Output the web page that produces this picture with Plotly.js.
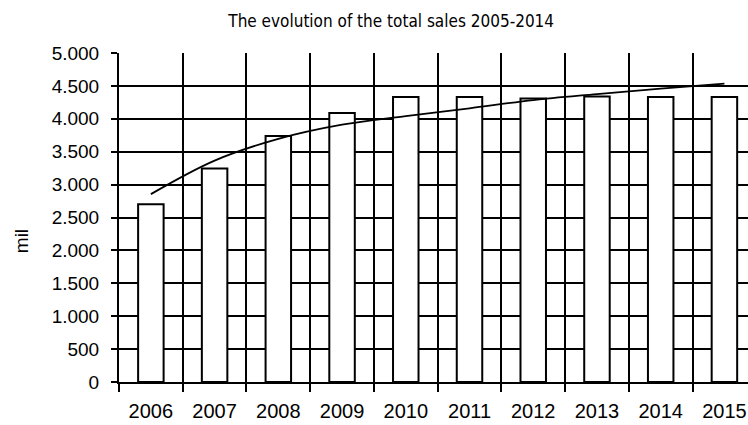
<!DOCTYPE html>
<html>
<head>
<meta charset="utf-8">
<script src="https://cdn.plot.ly/plotly-3.0.1.min.js"></script>
<style>
  html, body { margin: 0; padding: 0; background: #ffffff; overflow: hidden; }
  #chart { width: 748px; height: 425px; }
</style>
</head>
<body>
<div id="chart"></div>
<script>
// ---- data ----
var years = ['2006', '2007', '2008', '2009', '2010', '2011', '2012', '2013', '2014', '2015'];
var sales = [2700, 3245, 3740, 4090, 4330, 4330, 4310, 4340, 4330, 4330];
var trend = [2855, 3365, 3695, 3910, 4040, 4160, 4285, 4375, 4460, 4535];
var yTicks = [0, 500, 1000, 1500, 2000, 2500, 3000, 3500, 4000, 4500, 5000];
var yGrid = [500, 1000, 1500, 2000, 2500, 3000, 3500, 4000, 4500];
var titleText = 'The evolution of the total sales 2005-2014';
var yTitleText = 'mil';

var black = '#000000';
var baseFont = '"Liberation Sans", Arial, sans-serif';

var traces = [
  {
    type: 'bar',
    x: years,
    y: sales,
    width: 0.4,
    marker: { color: '#ffffff', line: { color: black, width: 2 } },
    xaxis: 'x',
    yaxis: 'y',
    hoverinfo: 'skip',
    showlegend: false
  },
  {
    type: 'scatter',
    mode: 'lines',
    x: years,
    y: trend,
    line: { color: black, width: 1.8, shape: 'spline', smoothing: 1 },
    xaxis: 'x',
    yaxis: 'y2',
    hoverinfo: 'skip',
    showlegend: false
  }
];

var layout = {
  width: 748,
  height: 425,
  margin: { l: 119, r: 0, t: 53, b: 43, pad: 0 },
  paper_bgcolor: '#ffffff',
  plot_bgcolor: '#ffffff',
  separators: ',.',
  font: { family: baseFont, color: black },
  showlegend: false,
  title: {
    text: titleText,
    font: { family: '"Liberation Sans Narrow", "DejaVu Sans Condensed", "Liberation Sans", sans-serif', size: 17, color: black },
    xref: 'container', yref: 'container',
    x: 0.523, xanchor: 'center',
    y: 0.951, yanchor: 'middle'
  },
  xaxis: {
    type: 'category',
    categoryorder: 'array',
    categoryarray: years,
    range: [-0.5, 9.37],
    tickson: 'boundaries',
    ticks: 'outside',
    ticklen: 8,
    tickwidth: 2,
    tickcolor: black,
    showgrid: true,
    gridcolor: black,
    gridwidth: 2,
    showline: true,
    linecolor: black,
    linewidth: 2,
    zeroline: false,
    tickfont: { family: baseFont, size: 20, color: black },
    ticklabelstandoff: 10,
    fixedrange: true
  },
  yaxis: {
    range: [0, 5000],
    tickmode: 'array',
    tickvals: yTicks,
    tickformat: ',d',
    ticks: 'outside',
    ticklen: 6,
    tickwidth: 2,
    tickcolor: black,
    showgrid: false,
    showline: true,
    linecolor: black,
    linewidth: 2,
    zeroline: false,
    tickfont: { family: baseFont, size: 19, color: black },
    ticklabelstandoff: 8,
    fixedrange: true
  },
  yaxis2: {
    overlaying: 'y',
    side: 'left',
    range: [0, 5000],
    tickmode: 'array',
    tickvals: yGrid,
    showticklabels: false,
    ticks: '',
    showgrid: true,
    gridcolor: black,
    gridwidth: 2,
    showline: false,
    zeroline: false,
    fixedrange: true
  },
  annotations: [
    {
      text: yTitleText,
      xref: 'paper', yref: 'paper',
      x: -0.1558, y: 0.428,
      xanchor: 'center', yanchor: 'middle',
      textangle: -90,
      showarrow: false,
      font: { family: baseFont, size: 19, color: black }
    }
  ]
};

Plotly.newPlot('chart', traces, layout, { staticPlot: true, displayModeBar: false });
</script>
</body>
</html>
